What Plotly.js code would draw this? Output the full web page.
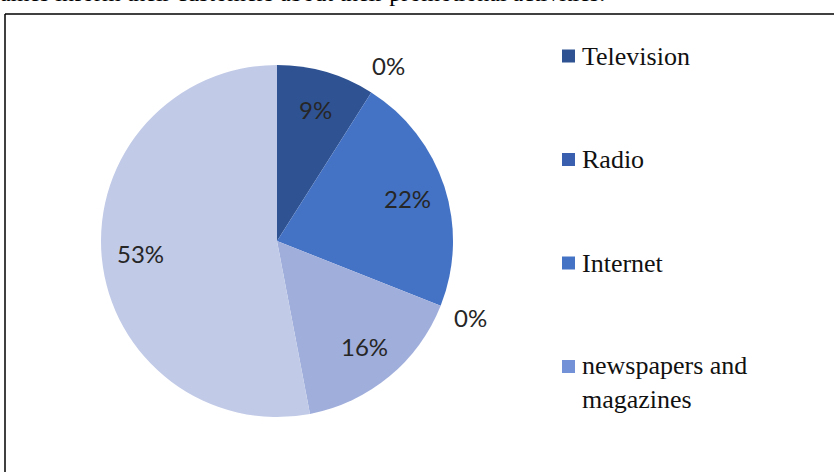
<!DOCTYPE html>
<html>
<head>
<meta charset="utf-8">
<script src="https://cdn.plot.ly/plotly-3.0.1.min.js"></script>
<style>
  html, body { margin: 0; padding: 0; background: #ffffff; }
  #chart { width: 834px; height: 472px; }
</style>
</head>
<body>
<div id="chart"></div>
<script>
// ---- data ----
var categories = ["Television", "Radio", "Internet", "newspapers and magazines", "Other media", "Other sources"];
var values = [9, 0, 22, 0, 16, 53];
var legendLabels = ["Television", "Radio", "Internet", "newspapers and<br>magazines"];
var sliceColors = ["#2f5292", "#3a5fae", "#4472c4", "#7391d6", "#a0aedc", "#c1cae7"];
var headerText = "ames inform their customers about their promotional activities.";

// ---- geometry (pixels) ----
var W = 834, H = 472;
var cx = 277, cyTop = 241, R = 176;
var cy = H - cyTop; // from bottom

var total = values.reduce(function (a, b) { return a + b; }, 0);

var pieTrace = {
  type: "pie",
  labels: categories,
  values: values,
  sort: false,
  direction: "clockwise",
  rotation: 0,
  textinfo: "none",
  hoverinfo: "label+percent",
  showlegend: false,
  marker: { colors: sliceColors, line: { width: 0 } },
  domain: { x: [(cx - R) / W, (cx + R) / W], y: [(cy - R) / H, (cy + R) / H] }
};

var annotations = [];
var shapes = [];

// percentage labels, placed along each slice's mid-angle
var cum = 0;
values.forEach(function (v, i) {
  var frac = v / total;
  var mid = (cum + frac / 2) * 2 * Math.PI;
  cum += frac;
  var k = v === 0 ? 1.18 : 0.78;
  var px = cx + R * k * Math.sin(mid);
  var py = cy + R * k * Math.cos(mid);
  annotations.push({
    xref: "paper", yref: "paper",
    x: px / W, y: py / H,
    xanchor: "center", yanchor: "middle",
    text: Math.round(frac * 100) + "%",
    showarrow: false,
    font: { family: "Lato, 'Open Sans', sans-serif", size: 24, color: "#262626" }
  });
});

// custom legend (only the first four entries are visible in the reference)
var legTop = 56, legStep = 103.5, sq = 13;
legendLabels.forEach(function (lab, i) {
  var yc = legTop + i * legStep; // from top
  shapes.push({
    type: "rect", xref: "paper", yref: "paper",
    x0: 562 / W, x1: (562 + sq) / W,
    y0: (H - yc - sq / 2) / H, y1: (H - yc + sq / 2) / H,
    fillcolor: sliceColors[i], line: { width: 0 }
  });
  var multi = lab.indexOf("<br>") >= 0;
  annotations.push({
    xref: "paper", yref: "paper",
    x: 580 / W,
    y: multi ? (H - (yc - 18)) / H : (H - yc) / H,
    xanchor: "left", yanchor: multi ? "top" : "middle",
    align: "left",
    text: lab,
    showarrow: false,
    font: { family: "'Liberation Serif', 'Times New Roman', serif", size: 26, color: "#111111" }
  });
});

// frame lines
shapes.push({ type: "line", xref: "paper", yref: "paper", x0: 5 / W, x1: 5 / W, y0: -0.05, y1: (H - 14) / H, line: { color: "#000000", width: 1.5 } });
shapes.push({ type: "line", xref: "paper", yref: "paper", x0: 5 / W, x1: 1.05, y0: (H - 14) / H, y1: (H - 14) / H, line: { color: "#000000", width: 1.5 } });

// cut-off header text at the very top (only its lower part is visible in the reference)
annotations.push({
  xref: "paper", yref: "paper",
  x: -2 / W, y: (H + 7) / H,
  xanchor: "left", yanchor: "middle",
  text: headerText, showarrow: false,
  font: { family: "'Liberation Serif', 'Times New Roman', serif", size: 24, color: "#000000" }
});

var layout = {
  width: W, height: H,
  margin: { l: 0, r: 0, t: 0, b: 0 },
  paper_bgcolor: "#ffffff",
  plot_bgcolor: "#ffffff",
  showlegend: false,
  annotations: annotations,
  shapes: shapes
};

Plotly.newPlot("chart", [pieTrace], layout, { displayModeBar: false, staticPlot: true });
</script>
</body>
</html>
